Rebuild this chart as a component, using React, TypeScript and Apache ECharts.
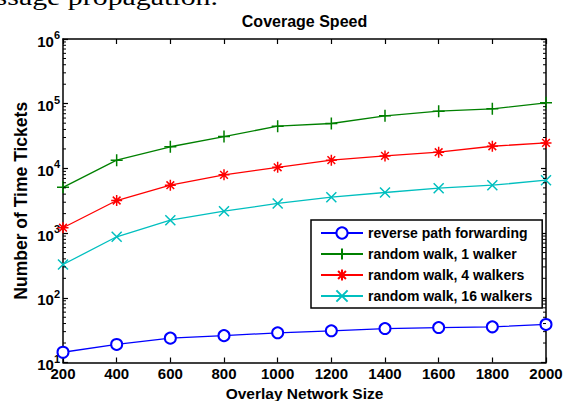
import React, { useEffect, useRef } from "react";
import * as echarts from "echarts";

const networkSizes = [200, 400, 600, 800, 1000, 1200, 1400, 1600, 1800, 2000];
const reversePath = [14.4, 19, 23.8, 26, 28.8, 30.9, 33.5, 34.7, 35.6, 38.7];
const walk1 = [5100, 13400, 21600, 31000, 45000, 49400, 65000, 76600, 83400, 103000];
const walk4 = [1210, 3190, 5500, 7960, 10400, 13400, 15600, 17800, 22000, 24800];
const walk16 = [327, 877, 1585, 2180, 2870, 3590, 4240, 4950, 5500, 6580];
const seriesNames = [
  "reverse path forwarding",
  "random walk, 1 walker",
  "random walk, 4 walkers",
  "random walk, 16 walkers",
];
const yMin = 10;
const yMax = 1e6;
const minorTickValues: number[] = [];
for (let e = 1; e <= 5; e++) {
  for (let m = 2; m <= 9; m++) minorTickValues.push(m * Math.pow(10, e));
}

const PLUS = "path://M0,5L10,5M5,0L5,10";
const CROSS = "path://M0,0L10,10M10,0L0,10";
const STAR = "path://M0,5L10,5M5,0L5,10M1.5,1.5L8.5,8.5M8.5,1.5L1.5,8.5";

const FONT = "Liberation Sans";

export default function App() {
  const ref = useRef<HTMLDivElement>(null);
  useEffect(() => {
    if (!ref.current) return;
    const chart = echarts.init(ref.current, undefined, { renderer: "svg" });
    const mk = (vals: number[]) => networkSizes.map((x, i) => [x, vals[i]]);
    const lineSeries = (
      name: string,
      vals: number[],
      color: string,
      symbol: string,
      size: number
    ) => ({
      name,
      type: "line",
      data: mk(vals),
      xAxisIndex: 0,
      yAxisIndex: 0,
      symbol,
      symbolSize: size,
      showAllSymbol: true,
      clip: false,
      lineStyle: { color, width: 1.3 },
      itemStyle: { color, borderColor: color, borderWidth: 1.5 },
      emphasis: { disabled: true },
      z: 3,
    });
    const axisLine = { show: true, lineStyle: { color: "#000", width: 1.5 } };
    const tick = { show: true, inside: true, length: 5, lineStyle: { color: "#000", width: 1.2 } };
    chart.setOption({
      animation: false,
      backgroundColor: "#fff",
      grid: { left: 63, right: 19, top: 39, bottom: 38.5, containLabel: false, outerBoundsMode: "none" },
      xAxis: [
        {
          type: "value",
          min: 200,
          max: 2000,
          interval: 200,
          position: "bottom",
          axisLine,
          axisTick: tick,
          axisLabel: {
            show: true,
            margin: 3,
            color: "#000",
            fontFamily: FONT,
            fontWeight: "bold",
            fontSize: 15,
            formatter: (v: number) => String(v),
          },
          splitLine: { show: false },
          name: "Overlay Network Size",
          nameLocation: "middle",
          nameGap: 23,
          nameMoveOverlap: false,
          nameTextStyle: { color: "#000", fontFamily: FONT, fontWeight: "bold", fontSize: 15.5 },
        },
        {
          type: "value",
          min: 200,
          max: 2000,
          interval: 200,
          position: "top",
          axisLine,
          axisTick: tick,
          axisLabel: { show: false },
          splitLine: { show: false },
        },
      ],
      yAxis: [
        {
          type: "log",
          logBase: 10,
          min: yMin,
          max: yMax,
          position: "left",
          axisLine,
          axisTick: tick,
          axisLabel: {
            show: true,
            margin: 3,
            color: "#000",
            formatter: (v: number) => `{b|10}{s|${Math.round(Math.log10(v))}}`,
            rich: {
              b: { fontFamily: FONT, fontWeight: "bold", fontSize: 15, lineHeight: 19, verticalAlign: "bottom", color: "#000" },
              s: { fontFamily: FONT, fontWeight: "bold", fontSize: 11, lineHeight: 11, verticalAlign: "top", color: "#000" },
            },
          },
          splitLine: { show: false },
          name: "Number of Time Tickets",
          nameLocation: "middle",
          nameGap: 33,
          nameMoveOverlap: false,
          nameRotate: 90,
          nameTextStyle: { color: "#000", fontFamily: FONT, fontWeight: "bold", fontSize: 17.5 },
        },
        {
          type: "log",
          logBase: 10,
          min: yMin,
          max: yMax,
          position: "right",
          axisLine,
          axisTick: tick,
          axisLabel: { show: false },
          splitLine: { show: false },
        },
      ],
      legend: {
        orient: "vertical",
        left: 311,
        top: 220,
        padding: [6, 10, 5, 9],
        itemWidth: 42,
        itemHeight: 14,
        itemGap: 7,
        backgroundColor: "#fff",
        borderColor: "#000",
        borderWidth: 1.5,
        borderRadius: 0,
        selectedMode: false,
        data: seriesNames,
        textStyle: { color: "#000", fontFamily: FONT, fontWeight: "bold", fontSize: 14 },
      },
      graphic: [
        {
          type: "text",
          x: 304.5,
          y: 21.5,
          style: {
            text: "Coverage Speed",
            fontFamily: FONT,
            fontWeight: "bold",
            fontSize: 16,
            fill: "#000",
            align: "center",
            verticalAlign: "middle",
          },
        },
        {
          type: "text",
          x: 218,
          y: -3.2,
          scaleX: 1.3,
          style: {
            text: "message propagation.",
            fontFamily: "Liberation Serif",
            fontSize: 23,
            fill: "#000",
            align: "right",
            verticalAlign: "middle",
          },
        },
      ],
      series: [
        lineSeries(seriesNames[0], reversePath, "#0000ff", "emptyCircle", 11),
        lineSeries(seriesNames[1], walk1, "#008000", PLUS, 12),
        lineSeries(seriesNames[2], walk4, "#ff0000", STAR, 11),
        lineSeries(seriesNames[3], walk16, "#00bfbf", CROSS, 10),
        {
          type: "custom",
          xAxisIndex: 0,
          yAxisIndex: 0,
          data: minorTickValues.map((v) => [200, v]),
          silent: true,
          clip: false,
          z: 4,
          renderItem: (params: any, api: any) => {
            const v = api.value(1);
            const l = api.coord([200, v]);
            const r = api.coord([2000, v]);
            return {
              type: "group",
              children: [
                { type: "line", shape: { x1: l[0], y1: l[1], x2: l[0] + 3, y2: l[1] }, style: { stroke: "#000", lineWidth: 1 } },
                { type: "line", shape: { x1: r[0], y1: r[1], x2: r[0] - 3, y2: r[1] }, style: { stroke: "#000", lineWidth: 1 } },
              ],
            };
          },
        },
      ],
    });
    return () => chart.dispose();
  }, []);
  return (
    <div
      ref={ref}
      style={{ position: "fixed", left: 0, top: 0, width: 565, height: 401, background: "#fff" }}
    />
  );
}
